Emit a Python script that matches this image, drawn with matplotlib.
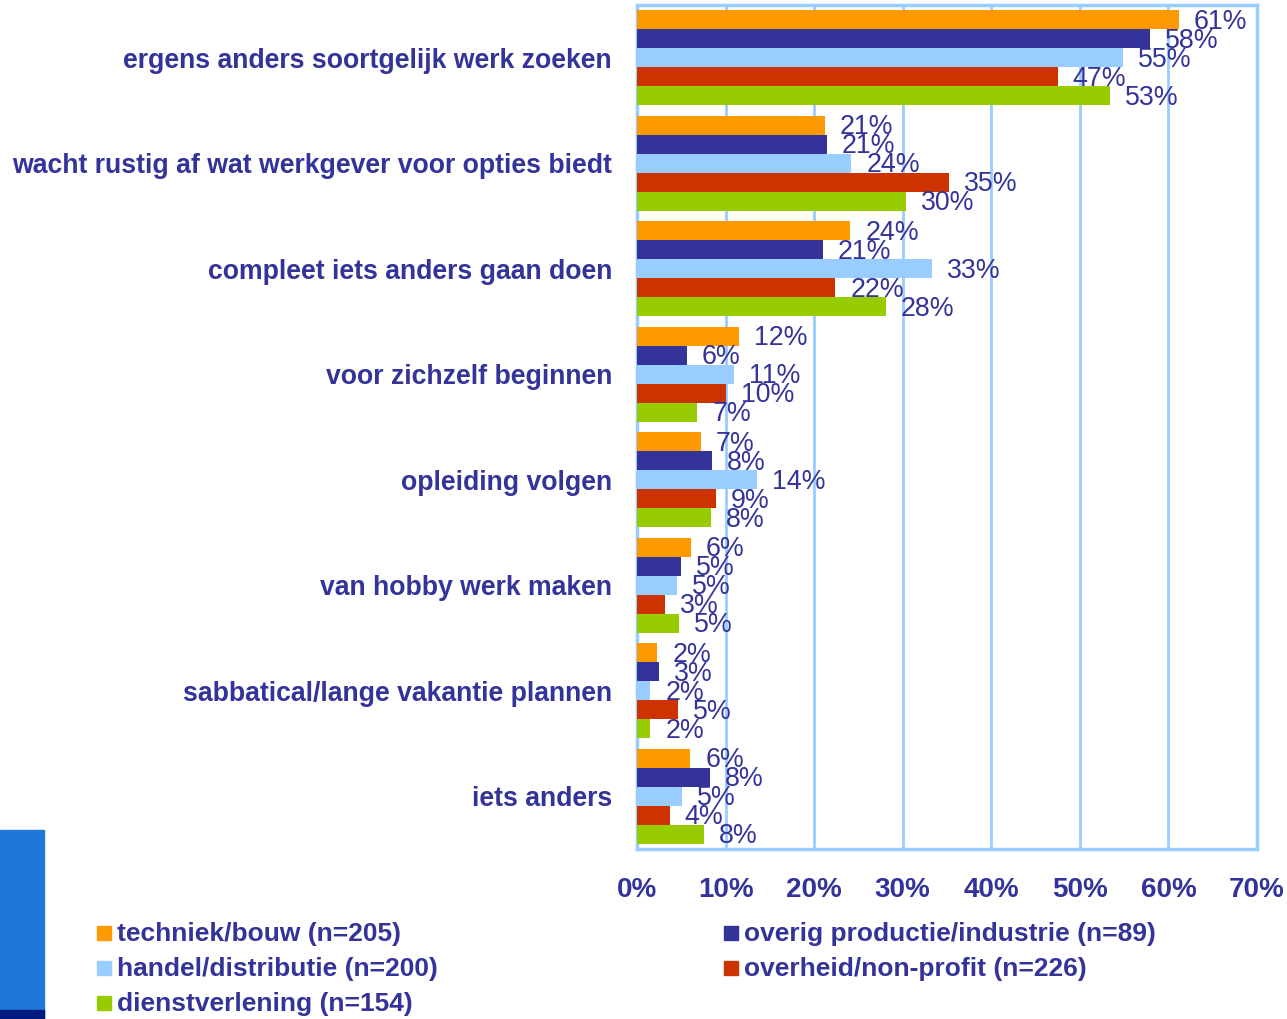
import numpy as np
import matplotlib
matplotlib.use("Agg")
import matplotlib.pyplot as plt
from matplotlib.patches import Rectangle

# categories, top to bottom
categories = [
    "ergens anders soortgelijk werk zoeken",
    "wacht rustig af wat werkgever voor opties biedt",
    "compleet iets anders gaan doen",
    "voor zichzelf beginnen",
    "opleiding volgen",
    "van hobby werk maken",
    "sabbatical/lange vakantie plannen",
    "iets anders",
]

series_names = [
    "techniek/bouw (n=205)",
    "overig productie/industrie (n=89)",
    "handel/distributie (n=200)",
    "overheid/non-profit (n=226)",
    "dienstverlening (n=154)",
]

# bar lengths (percent) per series
techniek = [61.2, 21.2, 24.1, 11.5, 7.2, 6.1, 2.3, 6.0]
overig = [57.9, 21.4, 21.0, 5.6, 8.5, 5.0, 2.5, 8.2]
handel = [54.9, 24.2, 33.3, 10.9, 13.5, 4.5, 1.5, 5.1]
overheid = [47.5, 35.2, 22.4, 10.1, 8.9, 3.2, 4.6, 3.7]
dienst = [53.4, 30.4, 28.1, 6.8, 8.3, 4.7, 1.5, 7.6]

# printed labels
lab_techniek = [61, 21, 24, 12, 7, 6, 2, 6]
lab_overig = [58, 21, 21, 6, 8, 5, 3, 8]
lab_handel = [55, 24, 33, 11, 14, 5, 2, 5]
lab_overheid = [47, 35, 22, 10, 9, 3, 5, 4]
lab_dienst = [53, 30, 28, 7, 8, 5, 2, 8]

values = [techniek, overig, handel, overheid, dienst]
labels = [lab_techniek, lab_overig, lab_handel, lab_overheid, lab_dienst]
colors = ["#FF9900", "#333399", "#99CCFF", "#CC3300", "#99CC00"]

txt = "#333399"
grid_col = "#99CCFF"

W, H = 1287, 1019
fig = plt.figure(figsize=(W / 100, H / 100), dpi=100)
ax = fig.add_axes([637 / W, 1 - 849 / H, (1257 - 637) / W, (849 - 5) / H])

y = np.arange(len(categories))
bh = 0.18
for i, (vals, labs, c) in enumerate(zip(values, labels, colors)):
    yy = y + (i - 2) * bh
    ax.barh(yy, vals, height=bh, color=c, zorder=3)
    for v, l, yv in zip(vals, labs, yy):
        ax.annotate(f"{l}%", (v, yv), xytext=(15, -2), textcoords="offset pixels",
                    ha="left", va="center", fontsize=19.3, color=txt,
                    family="Liberation Sans", zorder=4)

ax.set_xlim(0, 70)
ax.set_ylim(len(categories) - 0.5, -0.5)
ax.set_xticks(np.arange(0, 71, 10))
ax.set_xticklabels([f"{t}%" for t in range(0, 71, 10)])
ax.set_yticks(y)
ax.set_yticklabels(categories)
ax.xaxis.grid(True, color=grid_col, linewidth=2, zorder=0)
for s in ax.spines.values():
    s.set_color(grid_col)
    s.set_linewidth(2.5)
ax.tick_params(axis="both", length=0)
ax.tick_params(axis="y", pad=18)
ax.tick_params(axis="x", pad=20)
for t in ax.get_yticklabels():
    t.set_fontsize(19.2)
    t.set_fontweight("bold")
    t.set_color(txt)
    t.set_family("Liberation Sans")
for t in ax.get_xticklabels():
    t.set_fontsize(20)
    t.set_fontweight("bold")
    t.set_color(txt)
    t.set_family(["Liberation Sans Narrow", "Liberation Sans"])

# legend, two columns
leg_pos = [(97, 933), (724, 933), (97, 968), (724, 968), (97, 1003)]
for (lx, ly), name, c in zip(leg_pos, series_names, colors):
    fig.patches.append(Rectangle((lx / W, 1 - (ly + 7) / H), 14 / W, 14 / H,
                                 transform=fig.transFigure, color=c))
    fig.text((lx + 20) / W, 1 - (ly + 1) / H, name, ha="left", va="center",
             fontsize=19, fontweight="bold", color=txt, family="Liberation Sans")

# decorative blue block bottom-left
fig.patches.append(Rectangle((0, 0), 44 / W, (1019 - 830) / H,
                             transform=fig.transFigure, color="#2176D9"))
fig.patches.append(Rectangle((0, 0), 44 / W, 9 / H,
                             transform=fig.transFigure, color="#001A80"))

fig.savefig("out.png", dpi=100)
